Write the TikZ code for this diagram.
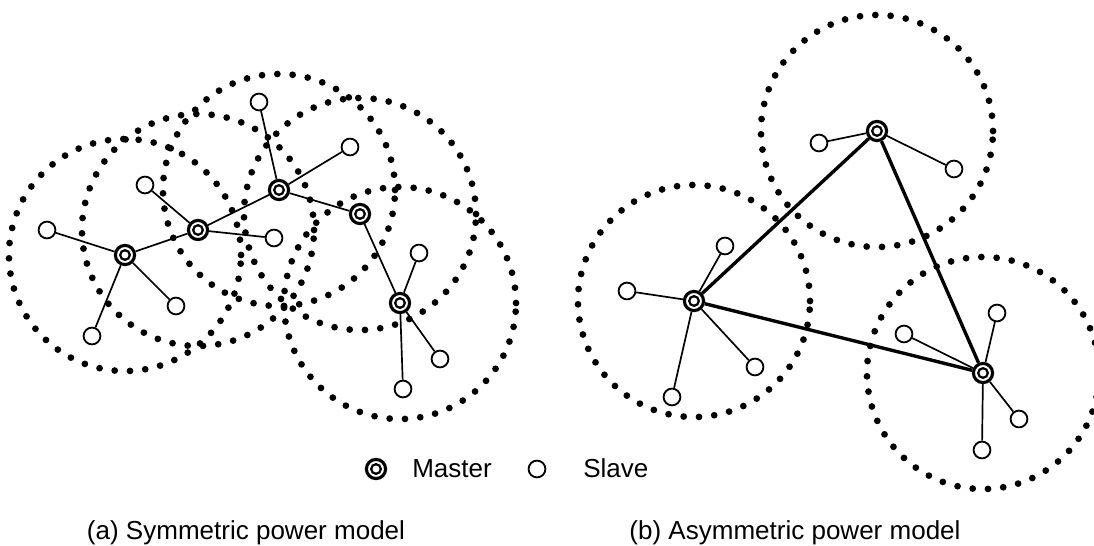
\documentclass[tikz,border=0pt]{standalone}
\usepackage{fontspec}
\setmainfont{Liberation Sans}
\usetikzlibrary{backgrounds}

\begin{document}
\begin{tikzpicture}[x=0.025cm,y=-0.025cm,
		master/.style={circle,draw,fill=white,inner sep=0,line width=2.2pt,minimum size=0.48cm,
			path picture={\draw[line width=1.6pt] (path picture bounding box.center) circle[radius=0.12cm];}},
		slave/.style={circle,draw,fill=white,inner sep=0,line width=1.3pt,minimum size=0.42cm},
		link/.style={line width=1.2pt},
		backbone/.style={line width=2.4pt},
		coverage/.style={line width=4.8pt,line cap=round,dash pattern=on 0pt off 10.9pt},
		txt/.style={font=\fontsize{18.5}{22}\selectfont,inner sep=0,anchor=base}]
		\useasboundingbox (0,0) rectangle (1094,546);
		% (a) symmetric
		\node [master] (M1) at (125,255) {};
		\node [master] (M2) at (198,230) {};
		\node [master] (M3) at (279,190) {};
		\node [master] (M4) at (360,214) {};
		\node [master] (M5) at (400,303) {};
		\node [slave] (S1) at (47,230) {};
		\node [slave] (S2) at (92,336) {};
		\node [slave] (S3) at (176,306) {};
		\node [slave] (S4) at (145,185) {};
		\node [slave] (S5) at (274,238) {};
		\node [slave] (S6) at (259,102) {};
		\node [slave] (S7) at (350,147) {};
		\node [slave] (S8) at (419,253) {};
		\node [slave] (S9) at (440,359) {};
		\node [slave] (S10) at (403,389) {};
		\draw [link] (M1) -- (M2) -- (M3) -- (M4) -- (M5);
		\draw [link] (M1) -- (S1);
		\draw [link] (M1) -- (S2);
		\draw [link] (M1) -- (S3);
		\draw [link] (M2) -- (S4);
		\draw [link] (M2) -- (S5);
		\draw [link] (M3) -- (S6);
		\draw [link] (M3) -- (S7);
		\draw [link] (M5) -- (S8);
		\draw [link] (M5) -- (S9);
		\draw [link] (M5) -- (S10);
		% (b) asymmetric
		\node [master] (N1) at (694,301) {};
		\node [master] (N2) at (877,131) {};
		\node [master] (N3) at (983,373) {};
		\node [slave] (T1) at (627,291) {};
		\node [slave] (T2) at (725,246) {};
		\node [slave] (T3) at (755,367) {};
		\node [slave] (T4) at (672,397) {};
		\node [slave] (T5) at (819,143) {};
		\node [slave] (T6) at (954,169) {};
		\node [slave] (T7) at (904,334) {};
		\node [slave] (T8) at (997,313) {};
		\node [slave] (T9) at (1019,419) {};
		\node [slave] (T10) at (982,450) {};
		\draw [backbone] (N1) -- (N2) -- (N3) -- (N1);
		\draw [link] (N1) -- (T1);
		\draw [link] (N1) -- (T2);
		\draw [link] (N1) -- (T3);
		\draw [link] (N1) -- (T4);
		\draw [link] (N2) -- (T5);
		\draw [link] (N2) -- (T6);
		\draw [link] (N3) -- (T7);
		\draw [link] (N3) -- (T8);
		\draw [link] (N3) -- (T9);
		\draw [link] (N3) -- (T10);
		% ranges
		\begin{scope}[on background layer]
			\foreach \m in {M1,M2,M3,M4,M5,N1,N2,N3}
				\draw [coverage] (\m) circle [radius=2.9cm];
		\end{scope}
		% legend
		\node [master] (legM) at (376,469) {};
		\node [txt,anchor=base west] (legMt) at (412,477) {Master};
		\node [slave] (legS) at (537,469) {};
		\node [txt,anchor=base west] (legSt) at (583,477) {Slave};
		\node [txt] (capa) at (246,539) {(a) Symmetric power model};
		\node [txt] (capb) at (795,539) {(b) Asymmetric power model};
	\end{tikzpicture}
\end{document}
